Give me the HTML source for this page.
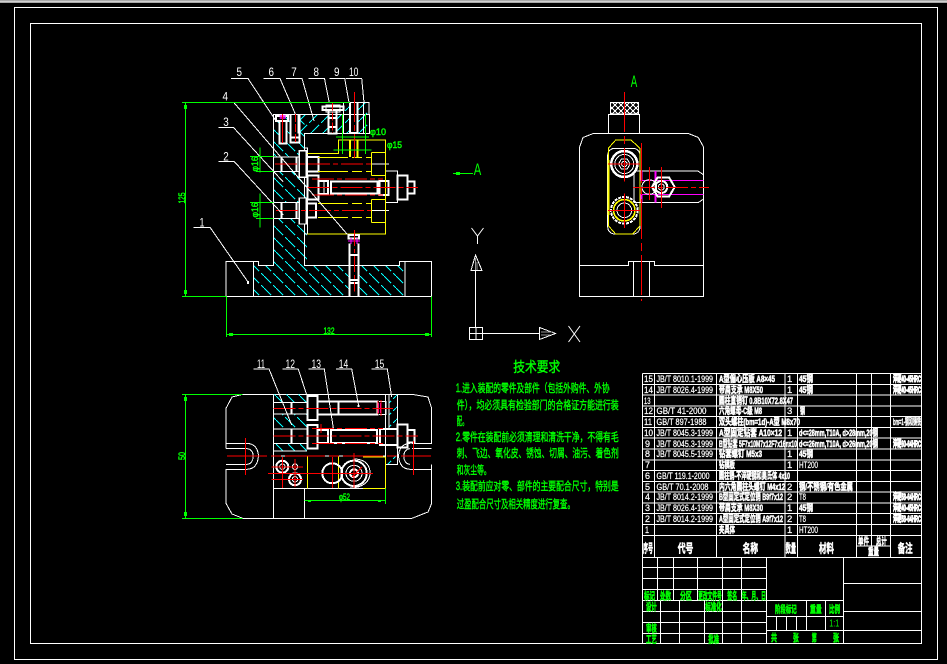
<!DOCTYPE html>
<html><head><meta charset="utf-8"><style>
html,body{margin:0;padding:0;background:#000;width:947px;height:664px;overflow:hidden}
svg{display:block}
text{font-family:"Liberation Sans","Noto Sans CJK SC",sans-serif}
.w{stroke:#fff;fill:none;stroke-width:1}
.b{stroke:#fff;fill:none;stroke-width:2}
.bk{stroke:#fff;fill:#000;stroke-width:1.4}
.y{stroke:#ff0;fill:none;stroke-width:1}
.g{stroke:#0f0;fill:none;stroke-width:1}
.r{stroke:#f00;fill:none;stroke-width:1}
.rd{stroke:#f00;fill:none;stroke-width:1;stroke-dasharray:22 3 5 3}
.m{stroke:#f0f;fill:none;stroke-width:1}
.ln{fill:#fff;font-size:12px}
.gt{fill:#0f0;stroke:#0f0;stroke-width:.5;font-size:9.5px}
.t{fill:#fff;stroke:#fff;stroke-width:.25;font-size:9.5px}
.tc{fill:#fff;stroke:#fff;stroke-width:.6;font-size:9.5px;font-weight:700}
.tr{fill:#fff;stroke:#fff;stroke-width:1.1;font-size:9.5px;font-weight:700}
.th{fill:#fff;stroke:#fff;stroke-width:.6;font-size:12px;font-weight:700}
.ts{fill:#fff;stroke:#fff;stroke-width:.5;font-size:10px;font-weight:700}
.tg{fill:#0f0;stroke:#0f0;stroke-width:.6;font-size:10px;font-weight:700}
.tk{fill:#0f0;stroke:#0f0;stroke-width:.4;font-size:11.5px}
</style></head><body>
<svg xmlns="http://www.w3.org/2000/svg" width="947" height="664" viewBox="0 0 947 664" shape-rendering="crispEdges">
<defs>
<pattern id="h1" patternUnits="userSpaceOnUse" width="12" height="12"><path d="M0 0L12 12" stroke="#0ff" stroke-width="1" stroke-dasharray="10 3"/></pattern>
<pattern id="h2" patternUnits="userSpaceOnUse" width="12" height="12"><path d="M0 12L12 0" stroke="#0ff" stroke-width="1" stroke-dasharray="10 3"/></pattern>
<pattern id="kn" patternUnits="userSpaceOnUse" width="6" height="6"><path d="M0 0L6 6M0 6L6 0" stroke="#fff" stroke-width="1"/></pattern>
</defs>
<rect width="947" height="664" fill="#000"/>
<rect width="947" height="3" fill="#a8a8a8"/><rect y="1" width="947" height="1" fill="#d0d0d0"/>
<rect x="14.5" y="7.5" width="923" height="652" class="w"/>
<rect x="30.5" y="23.5" width="891" height="620" class="w"/>

<!-- FRONT VIEW hatch -->
<path fill="url(#h1)" d="M253.5 296V263H258.5V265.5H273.5V114.5H304.7V150H307V265.5H349V296ZM359 265.5H399.3V263H405V296H359Z"/>
<path fill="url(#h2)" d="M298 114.5H343V133H298Z"/>
<path fill="url(#h2)" d="M343.5 102.5H369V133H343.5Z"/>
<!-- holes -->
<rect x="273.5" y="157" width="25" height="14.5" fill="#000"/>
<rect x="273.5" y="202.7" width="25" height="15.7" fill="#000"/>
<rect x="290.7" y="114.5" width="8.6" height="28" fill="#000"/>
<rect x="279.3" y="120" width="7.4" height="23.3" fill="#000"/>
<rect x="350" y="102.5" width="7.5" height="30.5" fill="#000"/>
<rect x="328.3" y="110" width="8.4" height="23.3" fill="#000"/>
<rect x="349.3" y="243.3" width="9.4" height="53" fill="#000"/>
<!-- base outline -->
<path class="w" d="M226 296.5V261.5H258.5V265.5H273.5V114.5H369.3V133.3H304.7V265.5H399.3V261.5H431.7V296.5Z"/>
<path class="w" d="M253.5 262V296.5M405 262V296.5M343.3 102.5H369V114.5M343.3 102.5V133.3M363.5 102.5V133.3M273.5 114.5H298M298 114.5V133.3M343.3 114.5H369.3"/>
<!-- screws top -->
<path class="b" d="M279.5 120V143.3H286.5V120M290.7 114.5V142.7H299.3V114.5M291 137.5H299"/>
<path class="b" d="M276 116H288V121H276ZM350 102.5V133H357.5V102.5"/>
<path class="b" d="M322.3 106.5H343.3V110H322.3ZM328.3 110V133.3H336.7V110M328.3 118H336.7M328.3 127H336.7"/>
<path class="w" d="M326 105H340V112H326Z"/>
<path class="m" d="M279.5 116H286M279.5 118H286M281 115V119M284 115V119" stroke-width="1.5"/>
<!-- plates and bolts -->
<rect x="299.3" y="150.7" width="7" height="26.6" class="bk"/>
<rect x="299.3" y="198" width="7" height="26" class="bk"/>
<path class="b" d="M281.5 157V171.5M281.5 203V218.3M296.5 157V171.5M296.5 203V218.3"/>
<path class="w" d="M273.5 157H299M273.5 171.5H299M273.5 202.7H299M273.5 218.3H299M304 148H307.3V234H304.7"/>
<path class="b" d="M306.5 157H318.3V171.3H306.5M318.3 159V169M306.5 203.3H316V217.3H306.5M316 203.3V217.3"/>
<path class="b" d="M307.5 175.3H318.3V199.3H307.5ZM318.3 181H328V194H318.3ZM331 181.5H377.3V193.5H331ZM379.3 181H388.7V195H379.3ZM397.7 175.5H407.3V199.3H397.7ZM407.3 181.5H414.3V193.3H407.3Z"/>
<path class="w" d="M328 181V194M380 183V192M385.7 171H397.7V202.7H385.7M371.5 164H389M371.5 210.7H389M324 182V193"/>
<!-- yellow -->
<path class="y" d="M307.3 153.3H338.3V140H385.7V234H307.3M371.3 152.7H385.7M371.3 175.7H385.7M371.3 152.7V175.7M371.3 199.3H385.7M371.3 222.3H385.7M371.3 199.3V222.3"/>
<path class="y" stroke-dasharray="30 4 10 4" d="M318 157.3H371.3M318 171.3H371.3M318 203.3H371.3M318 217.3H371.3"/>
<path d="M350 140V157M357.3 140V157" stroke="#ff0" stroke-width="2"/>
<!-- bottom screw -->
<path class="b" d="M349.3 243.3V296.3M358.7 243.3V296.3M349.3 255H358.7M349.3 280H358.7M349.3 283H358.7M348.5 235H359V238.5H348.5Z"/>
<path class="m" d="M351 238V244M357 238V244M348 241H360" stroke-width="1"/>
<!-- red -->
<path class="r" d="M354.3 230V291.7" stroke-dasharray="16 3 4 3"/>
<path class="r" d="M354.3 92V158" stroke-width="1.4" stroke-dasharray="30 3 6 3"/>
<path class="r" d="M332.3 102.7V133" stroke-dasharray="8 2"/>
<path class="r" d="M295.3 114V142" stroke-dasharray="8 2"/>
<path class="r" d="M282.5 114V143"/>
<path class="rd" d="M307.3 187.3H418M312 179H383M312 195H383M275 164H371M276 210.3H371"/>
<!-- leaders front -->
<path class="w" d="M231 78.5H248L276 121M263.5 78.5H280L295.3 114M286 78.5H302L314 121M308.5 78.5H324.5L329.3 102.7M329.5 78.5H344.7L349 102.5M345.5 78.5H361.7L364 102.5"/>
<path class="w" d="M234 102.7L347 234M218.3 127.3H233.3L283 181.7M218.3 161.3H234L283.3 215M193.3 227.3H210L248 282"/>
<rect x="247" y="281" width="2" height="3" fill="#fff"/>
<g class="ln" text-anchor="middle">
<text x="239.3" y="76" textLength="5.5" lengthAdjust="spacingAndGlyphs">5</text>
<text x="271.3" y="76" textLength="5.5" lengthAdjust="spacingAndGlyphs">6</text>
<text x="294" y="76" textLength="5.5" lengthAdjust="spacingAndGlyphs">7</text>
<text x="316.3" y="76" textLength="5.5" lengthAdjust="spacingAndGlyphs">8</text>
<text x="336.7" y="76" textLength="5.5" lengthAdjust="spacingAndGlyphs">9</text>
<text x="353.7" y="76" textLength="9.5" lengthAdjust="spacingAndGlyphs">10</text>
<text x="225.3" y="100.7" textLength="5.5" lengthAdjust="spacingAndGlyphs">4</text>
<text x="226" y="126" textLength="5.5" lengthAdjust="spacingAndGlyphs">3</text>
<text x="226" y="160.7" textLength="5.5" lengthAdjust="spacingAndGlyphs">2</text>
<text x="202" y="226.7" textLength="5" lengthAdjust="spacingAndGlyphs">1</text>
</g>
<!-- green dims front -->
<path class="g" d="M182 102.5H350M182 296.5H226.5M185.3 102.5V296.5M226.7 296.5V337M431.7 296.5V337M226.7 334.5H431.7"/>
<path class="g" d="M260 147.3V172.7M250 156.7H273.5M256 171.3H273.5M260 193.3V227.7M250 202.3H273.5M256 218.3H273.5"/>
<path class="g" d="M336 137H369M342.3 114V154M365.3 114V154M333.3 150H371.7"/>
<g fill="#0f0"><rect x="184" y="105" width="3" height="4"/><rect x="184" y="290" width="3" height="4"/><rect x="229" y="333" width="4" height="3"/><rect x="425" y="333" width="4" height="3"/></g>
<text class="gt" transform="translate(185,198) rotate(-90)" text-anchor="middle" textLength="11" lengthAdjust="spacingAndGlyphs">125</text>
<text class="gt" x="329" y="334" text-anchor="middle" textLength="11" lengthAdjust="spacingAndGlyphs">132</text>
<text class="gt" transform="translate(258,164) rotate(-90)" text-anchor="middle" textLength="15" lengthAdjust="spacingAndGlyphs">φ16</text>
<text class="gt" transform="translate(258,210) rotate(-90)" text-anchor="middle" textLength="15" lengthAdjust="spacingAndGlyphs">φ16</text>
<text class="gt" x="370" y="135" textLength="16" lengthAdjust="spacingAndGlyphs">φ10</text>
<text class="gt" x="387" y="148" textLength="15" lengthAdjust="spacingAndGlyphs">φ15</text>

<!-- TOP VIEW -->
<path class="w" d="M242.7 394.3H412L428 397L431.7 408.3V443.3H412M412 448.7H431.7M431.7 464.3V503.3L428 512L412 518.3H242.7L232 514L226 503.3V469.3H247M226 464.3H247M226 448.7V408.3L232 397L242.7 394.3M226 443.3H247M226 448.7H247"/>
<path class="w" d="M247 443.3C256 444 258 450 258.5 456C258 462 256 469 247 469.3M247 448.7C252 449 253 453 253.3 456C253 460 252 464 247 464.3"/>
<path class="w" d="M410 443.3C401 444 399 450 398.5 456C399 462 401 469 410 469.3M410 448.7C405 449 404 453 403.7 456C404 460 405 464 410 464.3M431.7 464.3V469.3H410"/>
<path fill="url(#h1)" d="M273.5 394.3H307V402.3H273.5ZM273.5 414H307V429H273.5ZM273.5 443.3H307V451H273.5Z"/>
<path fill="url(#h2)" d="M389 394.3H397.7V429H389ZM385.7 456H397.7V464.3H385.7Z"/>
<path class="w" d="M273.5 394.3V518.3M304.7 488.3V518.3M273.5 488.3H385.7M273.5 402.3H307M273.5 414H307M273.5 429H307M273.5 443.3H307M273.5 451H307M273.5 456H385.7M385.7 429V464.3H397.7V429M389 394.3V429M397.7 394.3V429M385.7 394.3V429"/>
<path class="b" d="M291.7 402.3V414M291.7 429V443.3M307.3 396H317.3V420H307.3ZM317.3 401.7H338.3V414.3H317.3ZM338.3 401.7H377.5V414.3H338.3ZM307.3 425H317.3V448.3H307.3ZM317.3 430H328V443H317.3ZM331 430H377V443H331ZM380 429H397.7V445H380ZM397.7 424.5H407.3V447.7H397.7ZM407.3 430H414.3V442.5H407.3Z"/>
<path class="w" d="M379 401.5H386V414.5H379"/>
<path class="m" d="M378.3 403V413M380.3 403V413" stroke-width="1"/>
<path class="y" d="M307.3 456V488.3M338.3 456V488.3M385.7 457V488.3M363 457H385.7M363 488.3H385.7"/>
<circle cx="282.3" cy="466.7" r="6" class="b"/><circle cx="282.3" cy="466.7" r="2.7" class="w"/>
<circle cx="295" cy="479.3" r="6" class="b"/><circle cx="295" cy="479.3" r="2.7" class="w"/>
<circle cx="295" cy="466.7" r="2.7" class="w"/>
<circle cx="332.3" cy="473.3" r="10" class="b"/>
<circle cx="354" cy="473.3" r="12.7" class="b"/><circle cx="354" cy="473.3" r="8" class="w"/><circle cx="354" cy="473.3" r="4" class="b"/>
<path class="w" d="M354 459C366 459 370 466 370 473C370 482 362 488 350 488"/>
<path class="r" d="M245.3 438V475M413.3 441V475M282.3 457V488M295 459V487M332.3 457V488M354 453V488M271.5 467H303M268 473.3H373M271.5 479.3H303M362 467L352 477"/>
<path class="r" d="M227 456H431" stroke-width="1.5" stroke-dasharray="40 4 10 4"/>
<path class="rd" d="M273.5 408.3H393M273.5 436H418M312 428.7H383M312 443.3H383"/>
<path class="r" d="M321 424V433M378 401V414M381 400V416"/>
<path class="w" d="M253.3 369H269L291.7 425M282.3 369H298.3L306.7 395M308.3 369H324.3L333.3 428M336 369H351.7L358.7 406M371.3 369H387.3L391.7 397"/>
<rect x="357.5" y="405" width="2" height="2" fill="#fff"/>
<g class="ln" text-anchor="middle">
<text x="261" y="368" textLength="8" lengthAdjust="spacingAndGlyphs">11</text>
<text x="290.3" y="368" textLength="9.5" lengthAdjust="spacingAndGlyphs">12</text>
<text x="316.3" y="368" textLength="9.5" lengthAdjust="spacingAndGlyphs">13</text>
<text x="343.5" y="368" textLength="9.5" lengthAdjust="spacingAndGlyphs">14</text>
<text x="379.5" y="368" textLength="9.5" lengthAdjust="spacingAndGlyphs">15</text>
</g>
<path class="g" d="M182 394.5H242.7M182 518.5H242.7M185.3 394.5V518.5M304.7 500.5H385.7M385.7 488.3V504"/>
<g fill="#0f0"><rect x="184" y="397" width="3" height="4"/><rect x="184" y="512" width="3" height="4"/><rect x="308" y="500" width="3" height="2"/><rect x="378" y="500" width="3" height="2"/></g>
<text class="gt" transform="translate(185,456) rotate(-90)" text-anchor="middle" textLength="8" lengthAdjust="spacingAndGlyphs">50</text>
<text class="gt" x="344.5" y="500" text-anchor="middle" textLength="11" lengthAdjust="spacingAndGlyphs">φ52</text>

<!-- SIDE VIEW -->
<path class="w" d="M579.5 296.5V147.3L583 137.5L593.3 133.5H688.3L698.3 137.5L703.7 147.3V296.5ZM579.5 265.5H628.3V261.5H654.3V265.5H703.7M633.3 261.5V296.5M649.7 261.5V296.5M608.3 133.5V114.5H639.3V133.5"/>
<rect x="610.5" y="102.5" width="28" height="11.5" fill="url(#kn)" stroke="#fff"/>
<rect x="607.7" y="148.3" width="32.3" height="85.7" rx="7" class="w"/>
<path class="y" d="M615.7 140H631L640 148.3V225.7L632.7 234H615.7L608.3 225.7V148.3Z"/>
<path d="M608.3 160V215" stroke="#ff0" stroke-width="2" fill="none"/>
<circle cx="624.3" cy="164" r="13" fill="#000" class="b" style="stroke-width:2.5"/>
<circle cx="624.3" cy="164" r="9.5" class="w"/>
<path class="w" d="M618.5 164L621.4 159H627.2L630.1 164L627.2 169H621.4Z"/><circle cx="624.3" cy="164" r="2.7" class="w"/>
<circle cx="624.3" cy="210.3" r="13.3" fill="#000" class="b" style="stroke-dasharray:3 1"/>
<circle cx="624.3" cy="210.3" r="10.7" class="y" style="stroke-width:1.6"/>
<circle cx="624.3" cy="210.3" r="7.3" class="w"/>
<path class="w" d="M634 171H698L703.7 175V199L698 202.7H634V171"/>
<path class="m" d="M640 180.3H703.7M640 194.3H703.7"/>
<path d="M641.5 171V180M641.5 194V202.7M655.7 171V180M655.7 194V202.7" stroke="#f0f" stroke-width="2" fill="none"/>
<circle cx="649.3" cy="187" r="7.3" class="w"/>
<path fill="#000" class="b" stroke-width="1.6" d="M652 187L657.7 177.3H669L674.7 187L669 196.7H657.7Z"/>
<circle cx="661.3" cy="187" r="6" class="b"/><circle cx="661.3" cy="187" r="3" class="w"/>
<path class="r" d="M624.3 92V181.7M624.3 193.3V228M641.3 143V301" stroke-dasharray="40 4 8 4"/>
<path class="r" d="M608 164H640M608 210.3H640M649.3 167V200M661.3 167V208"/>
<path class="rd" d="M633 187.3H709"/>
<text x="634" y="87" text-anchor="middle" fill="#0f0" font-size="17" textLength="6.5" lengthAdjust="spacingAndGlyphs">A</text>
<text x="477.5" y="175" text-anchor="middle" fill="#0f0" font-size="17" textLength="7.5" lengthAdjust="spacingAndGlyphs">A</text>
<path class="g" d="M453 173.5H473"/><rect x="456" y="172" width="4" height="3" fill="#0f0"/>
<!-- UCS -->
<path class="w" d="M475.5 270V327M482.5 333.5H539M469.5 327.5H482.5V339.5H469.5ZM476 327.5V339.5M469.5 333.5H482.5"/>
<path class="w" d="M475.5 255L471 270.5H482ZM539.5 327.5L555.5 333.5L539.5 339.5Z"/>
<path d="M475.5 258V270M477 262V270M541 332H553M541 335H550" stroke="#999" fill="none"/>
<path class="w" d="M471.5 228L477.5 236L483.5 228M477.5 236V244M568.5 326L580 342M580 326L568.5 342" shape-rendering="auto"/>

<!-- TECH TEXT -->
<text class="tk" x="536.7" y="372" text-anchor="middle" textLength="47" lengthAdjust="spacingAndGlyphs" style="font-size:14px">技术要求</text>
<g class="tk">
<text x="455.7" y="392" textLength="154" lengthAdjust="spacingAndGlyphs">1.进入装配的零件及部件（包括外购件、外协</text>
<text x="456.7" y="409" textLength="162" lengthAdjust="spacingAndGlyphs">件），均必须具有检验部门的合格证方能进行装</text>
<text x="456.7" y="425" textLength="11" lengthAdjust="spacingAndGlyphs">配。</text>
<text x="455.7" y="441" textLength="163" lengthAdjust="spacingAndGlyphs">2.零件在装配前必须清理和清洗干净，不得有毛</text>
<text x="456.7" y="457" textLength="162" lengthAdjust="spacingAndGlyphs">刺、飞边、氧化皮、锈蚀、切屑、油污、着色剂</text>
<text x="456.7" y="474" textLength="34" lengthAdjust="spacingAndGlyphs">和灰尘等。</text>
<text x="455.7" y="490" textLength="163" lengthAdjust="spacingAndGlyphs">3.装配前应对零、部件的主要配合尺寸，特别是</text>
<text x="456.7" y="508" textLength="118" lengthAdjust="spacingAndGlyphs">过盈配合尺寸及相关精度进行复查。</text>
</g>

<!-- BOM TABLE -->
<path class="w" d="M642.5 373.5H921.5M642.5 384.5H921.5M642.5 395H921.5M642.5 406H921.5M642.5 416.5H921.5M642.5 427.5H921.5M642.5 438H921.5M642.5 449H921.5M642.5 460H921.5M642.5 470.5H921.5M642.5 481.5H921.5M642.5 492H921.5M642.5 503H921.5M642.5 513.5H921.5M642.5 524.5H921.5M642.5 535.5H921.5M642.5 557.5H921.5"/>
<path class="w" d="M642.5 373.5V643.5M654.5 373.5V557.5M716.5 373.5V557.5M785 373.5V557.5M797.5 373.5V557.5M856.5 373.5V557.5M871.5 373.5V546M890.5 373.5V557.5M856.5 546H890.5"/>
<path class="w" d="M642.5 567.5H766.5M642.5 578.5H766.5M642.5 589.5H766.5M642.5 600.5H843.5M642.5 611.5H766.5M642.5 622.5H766.5M642.5 633.5H766.5M657.5 557.5V600.5M673.5 557.5V600.5M697.5 557.5V600.5M722.5 557.5V643.5M741.5 557.5V643.5M660.5 600.5V643.5M679.5 600.5V643.5M704.5 600.5V643.5M766.5 557.5V643.5M843.5 557.5V643.5M766.5 616.5H843.5M766.5 630.5H921.5M776.5 616.5V630.5M786.5 616.5V630.5M796.5 616.5V630.5M806.5 600.5V630.5M825.5 600.5V630.5M843.5 583.5H921.5M843.5 611.5H921.5"/>
<g class="t">
<text x="644" y="382" textLength="9" lengthAdjust="spacingAndGlyphs">15</text><text x="644" y="393" textLength="9" lengthAdjust="spacingAndGlyphs">14</text><text x="644" y="404" textLength="6.5" lengthAdjust="spacingAndGlyphs">13</text><text x="644" y="414" textLength="9" lengthAdjust="spacingAndGlyphs">12</text><text x="644" y="425" textLength="8" lengthAdjust="spacingAndGlyphs">11</text><text x="644" y="436" textLength="9" lengthAdjust="spacingAndGlyphs">10</text><text x="645" y="447" textLength="5" lengthAdjust="spacingAndGlyphs">9</text><text x="645" y="457" textLength="5" lengthAdjust="spacingAndGlyphs">8</text><text x="645" y="468" textLength="5" lengthAdjust="spacingAndGlyphs">7</text><text x="645" y="479" textLength="5" lengthAdjust="spacingAndGlyphs">6</text><text x="645" y="490" textLength="5" lengthAdjust="spacingAndGlyphs">5</text><text x="645" y="500" textLength="5" lengthAdjust="spacingAndGlyphs">4</text><text x="645" y="511" textLength="5" lengthAdjust="spacingAndGlyphs">3</text><text x="645" y="522" textLength="5" lengthAdjust="spacingAndGlyphs">2</text><text x="645" y="533" textLength="4" lengthAdjust="spacingAndGlyphs">1</text>
<text x="656.5" y="382" textLength="56.5" lengthAdjust="spacingAndGlyphs">JB/T 8010.1-1999</text>
<text x="656.5" y="393" textLength="56.5" lengthAdjust="spacingAndGlyphs">JB/T 8026.4-1999</text>
<text x="656.5" y="414" textLength="50" lengthAdjust="spacingAndGlyphs">GB/T 41-2000</text>
<text x="656.5" y="425" textLength="50" lengthAdjust="spacingAndGlyphs">GB/T 897-1988</text>
<text x="656.5" y="436" textLength="56.5" lengthAdjust="spacingAndGlyphs">JB/T 8045.3-1999</text>
<text x="656.5" y="447" textLength="56.5" lengthAdjust="spacingAndGlyphs">JB/T 8045.3-1999</text>
<text x="656.5" y="457" textLength="56.5" lengthAdjust="spacingAndGlyphs">JB/T 8045.5-1999</text>
<text x="656.5" y="479" textLength="53" lengthAdjust="spacingAndGlyphs">GB/T 119.1-2000</text>
<text x="656.5" y="490" textLength="52" lengthAdjust="spacingAndGlyphs">GB/T 70.1-2008</text>
<text x="656.5" y="500" textLength="56.5" lengthAdjust="spacingAndGlyphs">JB/T 8014.2-1999</text>
<text x="656.5" y="511" textLength="56.5" lengthAdjust="spacingAndGlyphs">JB/T 8026.4-1999</text>
<text x="656.5" y="522" textLength="56.5" lengthAdjust="spacingAndGlyphs">JB/T 8014.2-1999</text>
</g>
<g class="tc">
<text x="719" y="382" textLength="56" lengthAdjust="spacingAndGlyphs">A型偏心压板 A8×45</text>
<text x="719" y="393" textLength="44" lengthAdjust="spacingAndGlyphs">带肩支承 M8X50</text>
<text x="719" y="404" textLength="74" lengthAdjust="spacingAndGlyphs">圆柱直销钉 0.8B10X72.8X47</text>
<text x="719" y="414" textLength="43" lengthAdjust="spacingAndGlyphs">六角螺母-C级 M8</text>
<text x="719" y="425" textLength="81" lengthAdjust="spacingAndGlyphs">双头螺柱(bm=1d)-A型 M8x70</text>
<text x="719" y="436" textLength="63" lengthAdjust="spacingAndGlyphs">A型固定钻套 A10×12</text>
<text x="719" y="447" textLength="78" lengthAdjust="spacingAndGlyphs">B型钻套 5F7x10M7x12F7x16nx10</text>
<text x="719" y="457" textLength="43" lengthAdjust="spacingAndGlyphs">钻套螺钉 M5x3</text>
<text x="719" y="468" textLength="16" lengthAdjust="spacingAndGlyphs">钻模板</text>
<text x="719" y="479" textLength="71" lengthAdjust="spacingAndGlyphs">圆柱销-不淬硬钢和奥氏体 4x10</text>
<text x="719" y="490" textLength="66" lengthAdjust="spacingAndGlyphs">内六角圆柱头螺钉 M4x12</text>
<text x="719" y="500" textLength="64" lengthAdjust="spacingAndGlyphs">B型固定式定位销 B9f7x12</text>
<text x="719" y="511" textLength="44" lengthAdjust="spacingAndGlyphs">带肩支承 M8X30</text>
<text x="719" y="522" textLength="64" lengthAdjust="spacingAndGlyphs">A型固定式定位销 A9f7x12</text>
<text x="719" y="533" textLength="16" lengthAdjust="spacingAndGlyphs">夹具体</text>
<text x="799" y="382" textLength="14" lengthAdjust="spacingAndGlyphs">45钢</text>
<text x="799" y="393" textLength="14" lengthAdjust="spacingAndGlyphs">45钢</text>
<text x="800" y="414" textLength="5" lengthAdjust="spacingAndGlyphs">钢</text>
<text x="799" y="436" textLength="79" lengthAdjust="spacingAndGlyphs">d&lt;=28mm,T10A, d&gt;28mm,20钢</text>
<text x="799" y="447" textLength="79" lengthAdjust="spacingAndGlyphs">d&lt;=26mm,T10A, d&gt;26mm,20钢</text>
<text x="799" y="457" textLength="14" lengthAdjust="spacingAndGlyphs">45钢</text>
<text x="799" y="490" textLength="54" lengthAdjust="spacingAndGlyphs">钢/不锈钢/有色金属</text>
<text x="799" y="511" textLength="14" lengthAdjust="spacingAndGlyphs">45钢</text>
</g>
<g class="tr">
<text x="893" y="382" textLength="28" lengthAdjust="spacingAndGlyphs">淬硬40-45HRC</text>
<text x="893" y="393" textLength="28" lengthAdjust="spacingAndGlyphs">淬硬40-45HRC</text>
<text x="893" y="425" textLength="28" lengthAdjust="spacingAndGlyphs" style="stroke-width:.5">bm=1-钢和铸铁</text>
<text x="893" y="447" textLength="28" lengthAdjust="spacingAndGlyphs">淬硬60-64HRC</text>
<text x="893" y="500" textLength="28" lengthAdjust="spacingAndGlyphs">淬硬58-64HRC</text>
<text x="893" y="511" textLength="28" lengthAdjust="spacingAndGlyphs">淬硬40-45HRC</text>
<text x="893" y="522" textLength="28" lengthAdjust="spacingAndGlyphs">淬硬58-64HRC</text>
</g>
<g class="t">
<text x="787" y="382">1</text><text x="787" y="393">1</text><text x="787" y="414">3</text><text x="787" y="436">1</text><text x="787" y="457">1</text><text x="787" y="468">1</text><text x="787" y="490">2</text><text x="787" y="500">2</text><text x="787" y="511">1</text><text x="787" y="522">2</text><text x="787" y="533">1</text>
<text x="799" y="468" textLength="19" lengthAdjust="spacingAndGlyphs">HT200</text><text x="799" y="533" textLength="19" lengthAdjust="spacingAndGlyphs">HT200</text>
<text x="799" y="500" textLength="7" lengthAdjust="spacingAndGlyphs">T8</text><text x="799" y="522" textLength="7" lengthAdjust="spacingAndGlyphs">T8</text>
</g>
<g class="th">
<text x="643" y="552.5" textLength="10" lengthAdjust="spacingAndGlyphs">序号</text>
<text x="677.7" y="552.5" textLength="15.6" lengthAdjust="spacingAndGlyphs">代号</text>
<text x="742.7" y="552.5" textLength="15.3" lengthAdjust="spacingAndGlyphs">名称</text>
<text x="785.7" y="552.5" textLength="10.3" lengthAdjust="spacingAndGlyphs">数量</text>
<text x="819" y="552.5" textLength="15" lengthAdjust="spacingAndGlyphs">材料</text>
<text x="897.7" y="552.5" textLength="15" lengthAdjust="spacingAndGlyphs">备注</text>
</g>
<g class="ts">
<text x="858" y="545" textLength="11" lengthAdjust="spacingAndGlyphs">单件</text>
<text x="876" y="545" textLength="10.7" lengthAdjust="spacingAndGlyphs">总计</text>
<text x="868" y="555.5" textLength="11" lengthAdjust="spacingAndGlyphs">重量</text>
</g>
<g class="tg">
<text x="644" y="599.5" textLength="11" lengthAdjust="spacingAndGlyphs">标记</text>
<text x="660" y="599.5" textLength="11" lengthAdjust="spacingAndGlyphs">处数</text>
<text x="680" y="599.5" textLength="11.7" lengthAdjust="spacingAndGlyphs">分区</text>
<text x="698.3" y="599.5" textLength="23.4" lengthAdjust="spacingAndGlyphs">更改文件号</text>
<text x="727.3" y="599.5" textLength="10" lengthAdjust="spacingAndGlyphs">签名</text>
<text x="741.7" y="599.5" textLength="24.3" lengthAdjust="spacingAndGlyphs">年、月、日</text>
<text x="646" y="610.5" textLength="10.7" lengthAdjust="spacingAndGlyphs">设计</text>
<text x="705.3" y="610.5" textLength="16.4" lengthAdjust="spacingAndGlyphs">标准化</text>
<text x="646" y="632" textLength="10.7" lengthAdjust="spacingAndGlyphs">审核</text>
<text x="646" y="643" textLength="10.7" lengthAdjust="spacingAndGlyphs">工艺</text>
<text x="708.3" y="643" textLength="10.7" lengthAdjust="spacingAndGlyphs">批准</text>
<text x="775" y="613" textLength="21.7" lengthAdjust="spacingAndGlyphs">阶段标记</text>
<text x="810" y="613" textLength="11.7" lengthAdjust="spacingAndGlyphs">重量</text>
<text x="829" y="613" textLength="11" lengthAdjust="spacingAndGlyphs">比例</text>
<text x="771" y="641.5" textLength="6" lengthAdjust="spacingAndGlyphs">共</text><text x="793" y="641.5" textLength="5.7" lengthAdjust="spacingAndGlyphs">张</text><text x="811.7" y="641.5" textLength="5" lengthAdjust="spacingAndGlyphs">第</text><text x="833" y="641.5" textLength="6" lengthAdjust="spacingAndGlyphs">张</text>
</g>
<text x="829.3" y="626.7" fill="#0f0" font-size="10" textLength="10" lengthAdjust="spacingAndGlyphs">1:1</text>
</svg>
</body></html>
